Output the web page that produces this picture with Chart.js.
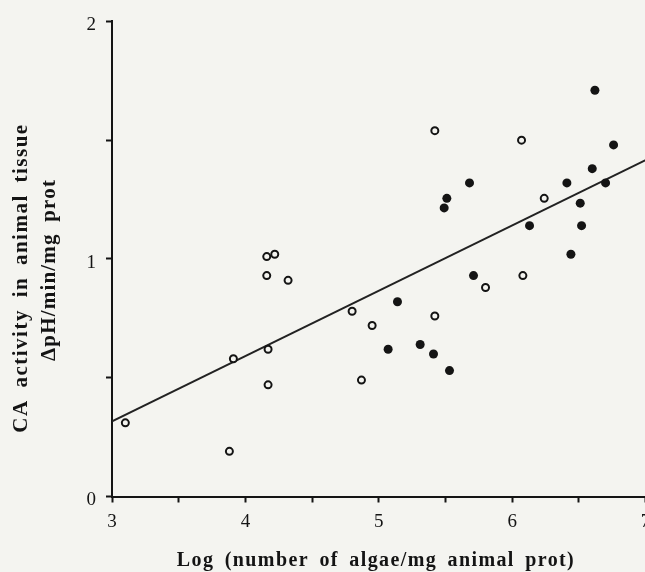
<!DOCTYPE html>
<html lang="en">
<head>
    <meta charset="UTF-8">
    <title>CA activity vs algae density</title>
    <script src="https://cdn.jsdelivr.net/npm/chart.js@4.4.0/dist/chart.umd.min.js"></script>
    <style>
        body {
            margin: 0;
            padding: 0;
            background-color: #f4f4f0;
            overflow: hidden;
        }
        .chart-box {
            width: 660px;
            height: 572px;
        }
    </style>
</head>
<body>
    <div class="chart-box">
        <canvas id="caChart" width="660" height="572"></canvas>
    </div>

    <script>
        // open circles
        const openX = [3.10, 3.88, 3.91, 4.16, 4.22, 4.16, 4.32, 4.17, 4.17, 4.80, 4.95, 4.87, 5.42, 5.80, 6.08, 5.42, 6.07, 6.24];
        const openY = [0.31, 0.19, 0.58, 1.01, 1.02, 0.93, 0.91, 0.62, 0.47, 0.78, 0.72, 0.49, 0.76, 0.88, 0.93, 1.54, 1.50, 1.255];

        // filled circles
        const filledX = [5.14, 5.07, 5.31, 5.41, 5.53, 5.71, 6.44, 6.62, 6.76, 6.60, 6.41, 6.70, 6.51, 6.52, 6.13, 5.68, 5.51, 5.49];
        const filledY = [0.82, 0.62, 0.64, 0.60, 0.53, 0.93, 1.02, 1.71, 1.48, 1.38, 1.32, 1.32, 1.235, 1.14, 1.14, 1.32, 1.255, 1.215];

        // regression line end points
        const lineX = [3, 7];
        const lineY = [0.316, 1.416];

        const xTicks = [3, 4, 5, 6, 7];
        const yTicks = [0, 1, 2];

        const xTitle = 'Log (number of algae/mg animal prot)';
        const yTitle = ['CA activity in animal tissue', '\u0394pH/min/mg prot'];

        const bg = '#f4f4f0';
        const ink = '#141414';
        const serif = "'Liberation Serif', 'DejaVu Serif', serif";

        const toPoints = (xs, ys) => xs.map((x, i) => ({x: x, y: ys[i]}));

        // axis titles drawn by hand: the scan has wide letter spacing and an off-centre y title
        function spacedText(ctx, text, x, y, angle, size, ls, ws) {
            ctx.save();
            ctx.fillStyle = ink;
            ctx.font = 'bold ' + size + 'px ' + serif;
            ctx.textAlign = 'center';
            ctx.textBaseline = 'middle';
            if ('letterSpacing' in ctx) ctx.letterSpacing = ls + 'px';
            if ('wordSpacing' in ctx) ctx.wordSpacing = ws + 'px';
            ctx.translate(x, y);
            ctx.rotate(angle);
            ctx.fillText(text, 0, 0);
            ctx.restore();
        }

        const titlePlugin = {
            id: 'axisTitles',
            afterDraw(chart) {
                const ctx = chart.ctx;
                spacedText(ctx, xTitle, 376, 561, 0, 20, 1.4, 4);
                spacedText(ctx, yTitle[0], 22, 278, -Math.PI / 2, 21, 1.5, 5);
                spacedText(ctx, yTitle[1], 50, 270, -Math.PI / 2, 21, 1.2, 5);
            }
        };

        new Chart(document.getElementById('caChart'), {
            type: 'scatter',
            data: {
                datasets: [
                    {
                        label: 'open',
                        data: toPoints(openX, openY),
                        pointRadius: 3.5,
                        pointBorderWidth: 2,
                        pointBorderColor: ink,
                        pointBackgroundColor: bg,
                        order: 1
                    },
                    {
                        label: 'filled',
                        data: toPoints(filledX, filledY),
                        pointRadius: 4.5,
                        pointBorderWidth: 0,
                        pointBackgroundColor: ink,
                        order: 2
                    },
                    {
                        label: 'fit',
                        type: 'line',
                        data: toPoints(lineX, lineY),
                        borderColor: '#222',
                        borderWidth: 2,
                        pointRadius: 0,
                        fill: false,
                        order: 3
                    }
                ]
            },
            options: {
                responsive: false,
                animation: false,
                layout: {
                    padding: {left: 0, right: 14.4, top: 17, bottom: 0}
                },
                plugins: {
                    legend: {display: false},
                    tooltip: {enabled: false}
                },
                scales: {
                    x: {
                        type: 'linear',
                        min: 3,
                        max: 7,
                        afterFit(scale) { scale.height = 75.5; },
                        border: {display: true, color: ink, width: 2},
                        grid: {drawOnChartArea: false, drawTicks: true, tickLength: 6, tickWidth: 2, tickColor: ink},
                        ticks: {
                            stepSize: 0.5,
                            autoSkip: false,
                            maxRotation: 0,
                            padding: 8,
                            color: ink,
                            font: {family: serif, size: 19},
                            callback: v => xTicks.includes(v) ? String(v) : ''
                        }
                    },
                    y: {
                        type: 'linear',
                        min: 0,
                        max: 2,
                        afterFit(scale) { scale.width = 112; },
                        border: {display: true, color: ink, width: 2},
                        grid: {drawOnChartArea: false, drawTicks: true, tickLength: 6, tickWidth: 2, tickColor: ink},
                        ticks: {
                            stepSize: 0.5,
                            autoSkip: false,
                            padding: 10,
                            labelOffset: 4,
                            color: ink,
                            font: {family: serif, size: 19},
                            callback: v => yTicks.includes(v) ? String(v) : ''
                        }
                    }
                }
            },
            plugins: [titlePlugin]
        });
    </script>
</body>
</html>
